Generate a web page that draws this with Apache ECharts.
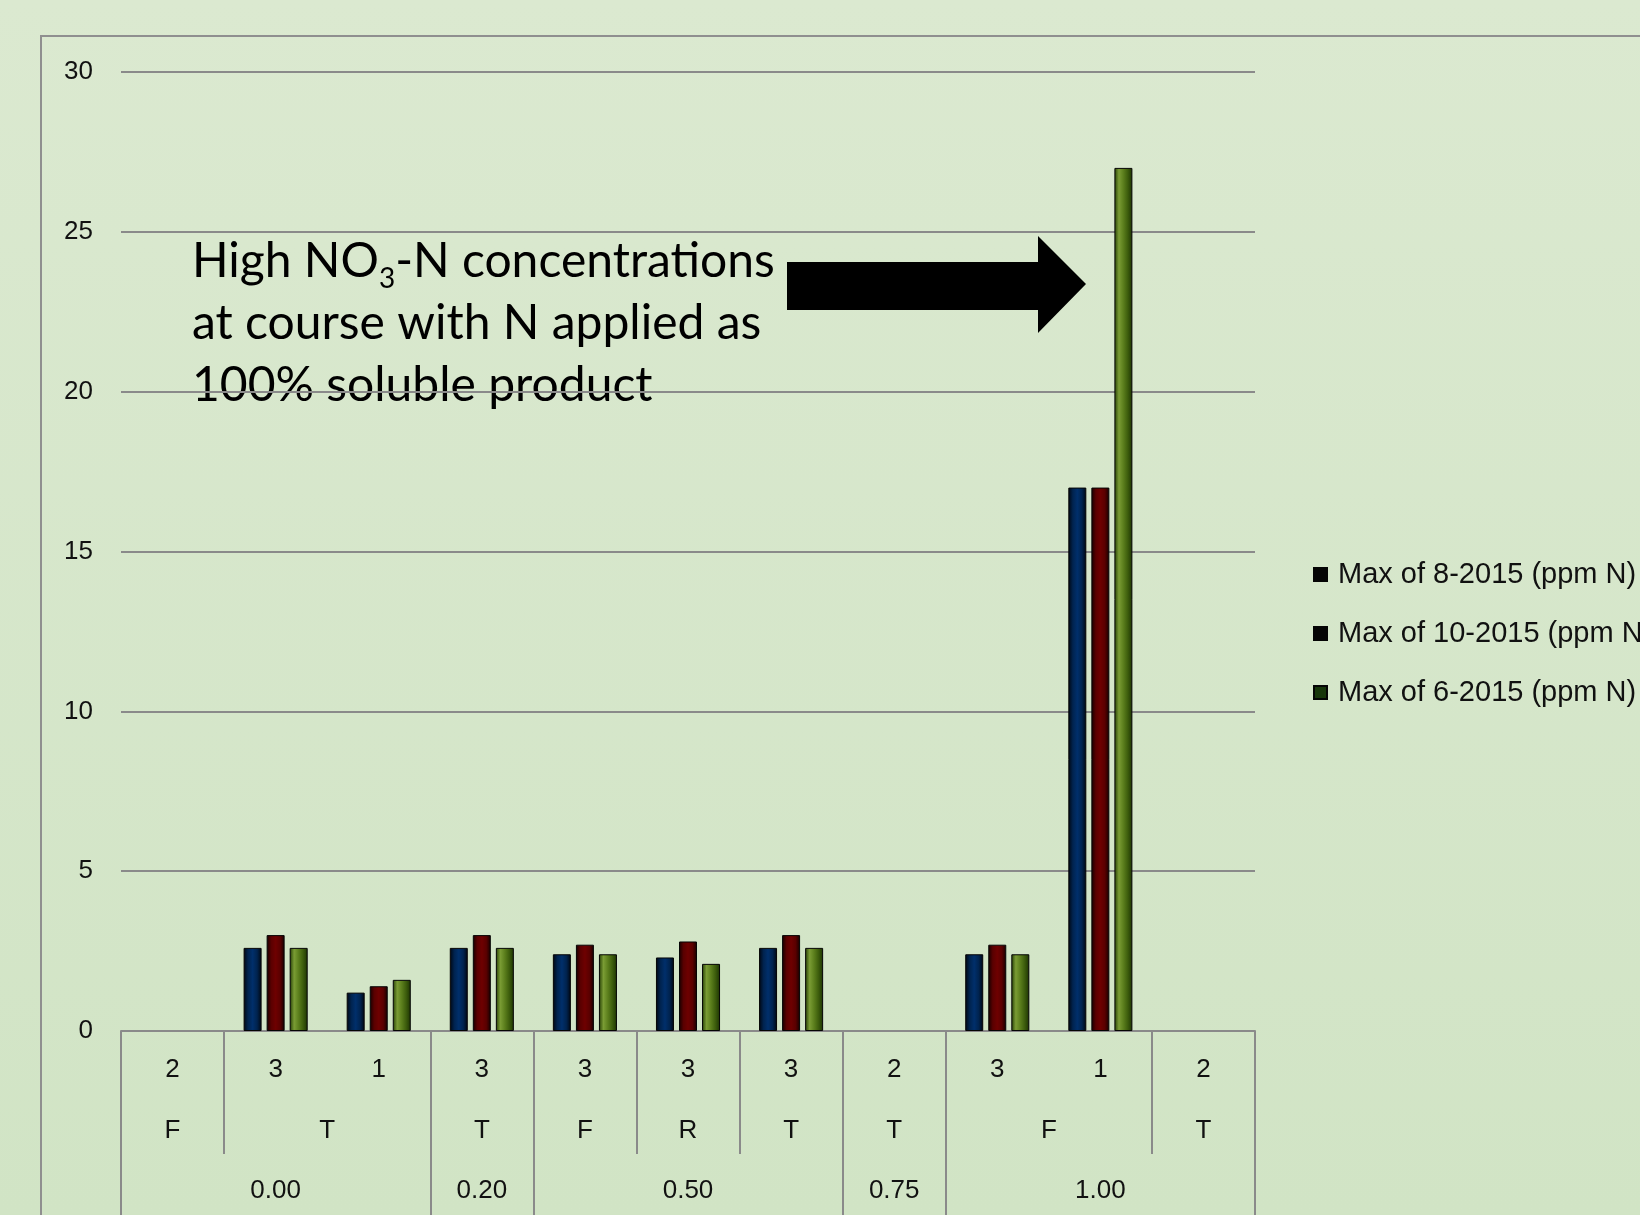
<!DOCTYPE html>
<html>
<head>
<meta charset="utf-8">
<title>Max NO3-N by course</title>
<script src="https://cdn.jsdelivr.net/npm/echarts@6.0.0/dist/echarts.min.js"></script>
<style>
  html, body { margin: 0; padding: 0; }
  body { width: 1640px; height: 1215px; overflow: hidden; background: linear-gradient(#dbe9d0, #d1e4c5); }
  #chart { width: 1640px; height: 1215px; }
</style>
</head>
<body>
<div id="chart"></div>
<script>
// category levels (innermost first)
const level1 = ['2', '3', '1', '3', '3', '3', '3', '2', '3', '1', '2'];
const level2 = ['F', 'T', 'T', 'T', 'F', 'R', 'T', 'T', 'F', 'F', 'T'];
const level3 = ['0.00', '0.00', '0.00', '0.20', '0.50', '0.50', '0.50', '0.75', '1.00', '1.00', '1.00'];

const seriesNames = ['Max of 8-2015 (ppm N)', 'Max of 10-2015 (ppm N)', 'Max of 6-2015 (ppm N)'];
const aug2015 = [null, 2.6, 1.2, 2.6, 2.4, 2.3, 2.6, null, 2.4, 17, null];
const oct2015 = [null, 3.0, 1.4, 3.0, 2.7, 2.8, 3.0, null, 2.7, 17, null];
const jun2015 = [null, 2.6, 1.6, 2.6, 2.4, 2.1, 2.6, null, 2.4, 27, null];

const yMin = 0;
const yMax = 30;
const yStep = 5;

const gray = '#8a8a8a';
const labelFont = 'Liberation Sans';

// merge consecutive equal keys into groups spanning [start, end)
function groupsOf(keys, labels) {
  const out = [];
  keys.forEach((k, i) => {
    const last = out[out.length - 1];
    if (last && last.key === k) last.end = i + 1;
    else out.push({ key: k, label: labels[i], start: i, end: i + 1 });
  });
  return out;
}
const g3 = groupsOf(level3, level3);
const g2 = groupsOf(level2.map((v, i) => level3[i] + '|' + v), level2);

const bounds3 = g3.map(g => g.start).concat([level1.length]);
const bounds2 = g2.map(g => g.start).filter(b => bounds3.indexOf(b) < 0);

function labelAt(groups, v) {
  const g = groups.find(g => Math.abs((g.start + g.end) / 2 - v) < 1e-6);
  return g ? g.label : '';
}

function hGrad(stops) {
  return new echarts.graphic.LinearGradient(0, 0, 1, 0,
    stops.map((c, i) => ({ offset: i / (stops.length - 1), color: c })));
}
const barColors = [
  hGrad(['#000610', '#00234f', '#002f6b', '#00234f', '#000610']),
  hGrad(['#140000', '#5a0000', '#6e0000', '#5a0000', '#140000']),
  hGrad(['#243d05', '#7a9c34', '#5b7e1c', '#3c5c0c', '#1c3203'])
];
const legendColors = ['#050505', '#050505', '#17360a'];

const groupAxis = (groups, bounds, tickLen, margin) => ({
  type: 'value',
  gridIndex: 0,
  position: 'bottom',
  min: 0,
  max: level1.length,
  axisLine: { show: false, onZero: false },
  splitLine: { show: false },
  axisTick: {
    show: true,
    customValues: bounds,
    length: tickLen,
    lineStyle: { color: gray, width: 2 }
  },
  axisLabel: {
    customValues: groups.map(g => (g.start + g.end) / 2),
    formatter: v => labelAt(groups, v),
    margin: margin,
    fontSize: 26,
    fontFamily: labelFont,
    color: '#111'
  }
});

const chart = echarts.init(document.getElementById('chart'));

chart.setOption({
  backgroundColor: 'transparent',
  animation: false,
  grid: { left: 121, right: 385, top: 72, bottom: 184 },
  legend: {
    orient: 'vertical',
    left: 1308,
    top: 555,
    itemWidth: 13,
    itemHeight: 13,
    itemGap: 30,
    icon: 'rect',
    textStyle: {
      fontSize: 29,
      lineHeight: 28,
      fontFamily: labelFont,
      color: '#111',
      padding: [0, 0, 0, 6]
    },
    data: seriesNames.map((n, i) => ({ name: n, itemStyle: { color: legendColors[i] } }))
  },
  xAxis: [
    {
      type: 'category',
      gridIndex: 0,
      position: 'bottom',
      data: level1,
      axisLine: { show: true, onZero: false, lineStyle: { color: gray, width: 2 } },
      axisTick: { show: false },
      axisLabel: {
        interval: 0,
        margin: 26,
        fontSize: 26,
        fontFamily: labelFont,
        color: '#111'
      }
    },
    groupAxis(g2, bounds2, 123, 87),
    groupAxis(g3, bounds3, 220, 147)
  ],
  yAxis: {
    type: 'value',
    min: yMin,
    max: yMax,
    interval: yStep,
    axisLine: { show: false },
    axisTick: { show: false },
    splitLine: { lineStyle: { color: gray, width: 2 } },
    axisLabel: { margin: 28, fontSize: 26, fontFamily: labelFont, color: '#111' }
  },
  series: [aug2015, oct2015, jun2015].map((d, i) => ({
    name: seriesNames[i],
    type: 'bar',
    xAxisIndex: 0,
    barWidth: 18,
    barGap: '28%',
    data: d,
    itemStyle: { color: barColors[i], borderColor: '#050505', borderWidth: 1 }
  })),
  graphic: [
    {
      type: 'rect',
      z: -1,
      shape: { x: 41, y: 36, width: 1700, height: 1300 },
      style: { fill: 'none', stroke: '#8f8f8f', lineWidth: 2 }
    },
    {
      type: 'polygon',
      shape: {
        points: [[787, 262], [1038, 262], [1038, 236], [1086, 284], [1038, 333], [1038, 310], [787, 310]]
      },
      style: { fill: '#000' }
    },
    {
      type: 'text',
      x: 192,
      y: 231,
      style: {
        text: '{t|High NO}{s|3}{t|-N concentrations}\n{t|at course with N applied as}\n{t|100% soluble product}',
        verticalAlign: 'top',
        rich: {
          t: { fontSize: 48, lineHeight: 62, fontFamily: 'Lato', fill: '#000' },
          s: { fontSize: 28, lineHeight: 30, verticalAlign: 'bottom', fontFamily: 'Lato', fill: '#000' }
        }
      }
    }
  ]
});

window.addEventListener('resize', () => chart.resize());
</script>
</body>
</html>
